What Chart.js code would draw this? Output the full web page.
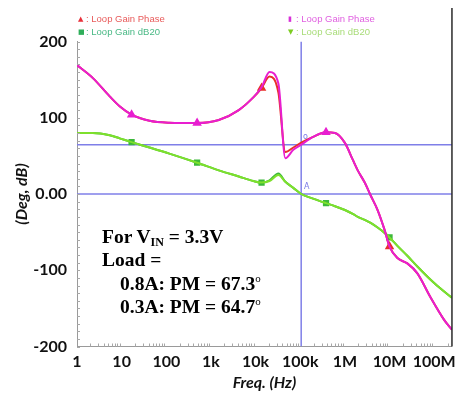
<!DOCTYPE html>
<html>
<head>
<meta charset="utf-8">
<script src="https://cdn.jsdelivr.net/npm/chart.js@4.4.1/dist/chart.umd.min.js"></script>
<style>
  html, body { margin: 0; padding: 0; background: #fff; }
  #wrap { position: relative; width: 462px; height: 397px; overflow: hidden; }
  #c { position: absolute; left: 0; top: 0; }
  .leg { position: absolute; font: 9.5px "Liberation Sans", Arial, sans-serif; line-height: 12px; white-space: nowrap; }
  .mk { position: absolute; font: 7px "DejaVu Sans", sans-serif; line-height: 12px; }
  .note { position: absolute; left: 102px; top: 225px; font: bold 19.5px "Liberation Serif", "Times New Roman", serif; line-height: 23.3px; color: #000; white-space: nowrap; }
  .note sub { font-size: 12px; vertical-align: -3px; line-height: 0; }
  .note sup { font-size: 11px; vertical-align: 8px; line-height: 0; font-weight: normal; }
  .ind { padding-left: 18px; }
  .cur { position: absolute; font: 8px "DejaVu Sans", sans-serif; color: #7a7ae6; line-height: 10px; }
</style>
</head>
<body>
<div id="wrap">
  <canvas id="c" width="462" height="397"></canvas>

  <span class="mk" style="left:78px;top:13px;color:#e8303a;">▲</span>
  <span class="leg" style="left:86px;top:13px;color:#e85a5a;">: Loop Gain Phase</span>
  <span class="mk" style="left:78px;top:26px;color:#2fae5a;">■</span>
  <span class="leg" style="left:86px;top:26px;color:#48b884;">: Loop Gain dB20</span>

  <span class="mk" style="left:288px;top:13px;color:#d830d8;">▮</span>
  <span class="leg" style="left:296px;top:13px;color:#e060e0;">: Loop Gain Phase</span>
  <span class="mk" style="left:288px;top:26px;color:#7ccc20;">▼</span>
  <span class="leg" style="left:296px;top:26px;color:#a8dc78;">: Loop Gain dB20</span>

  <span class="cur" style="left:303px;top:132px;">o</span>
  <span class="cur" style="left:304px;top:182px;">A</span>

  <div class="note">
    <div>For V<sub>IN</sub> = 3.3V</div>
    <div>Load =</div>
    <div class="ind">0.8A: PM = 67.3<sup>o</sup></div>
    <div class="ind">0.3A: PM = 64.7<sup>o</sup></div>
  </div>
</div>

<script>
// Frequency sweep points (Hz)
const freqHz = [1, 2.27, 5.4, 9.0, 16.7, 42, 117, 490, 1500, 4200, 9000, 13600, 20500, 32400,
  46400, 70000, 105000, 194000, 378000, 600000, 1.0e6, 1.5e6, 1.94e6, 2.78e6, 3.78e6, 5.4e6,
  7.74e6, 1.0e7, 1.5e7, 2.5e7, 4.2e7, 8.2e7, 1.67e8, 2.5e8];

// Loop gain phase (deg), 0.3 A load
const phase03 = [169, 152, 128, 115, 104, 96, 93.5, 93, 97, 110, 127, 140, 160, 145,
  47, 58, 64.7, 75, 81, 80, 67, 45, 31, 15, -2, -21,
  -47, -69, -84, -91, -104, -135, -165, -178];

// Loop gain phase (deg), 0.8 A load
const phase08 = [169, 152, 128, 115, 104, 96, 93.5, 93, 97, 110, 127, 139, 154, 133,
  55, 61, 67.3, 75, 81, 80, 67, 45, 31, 15, -2, -21,
  -47, -69, -84, -91, -104, -135, -165, -178];

// Loop gain magnitude (dB), 0.3 A load
const gainDb03 = [80, 80, 77, 73, 68, 61, 53, 41, 31, 23, 17, 15, 17, 25,
  16, 8, 0, -6, -12, -16, -21, -26, -30, -34, -38, -44,
  -51, -57, -68, -81, -95, -112, -128, -136];

// Loop gain magnitude (dB), 0.8 A load
const gainDb08 = [80, 80, 77, 73, 68, 61, 53, 41, 31, 23, 17, 15, 18, 27,
  16, 8, 0, -6, -12, -16, -21, -26, -30, -34, -38, -44,
  -51, -57, -68, -81, -95, -112, -128, -136];

// Cursor lines: unity-gain crossover frequency and phase margin level
const crossoverHz = 105000;
const pmLevel = 64.7;

// Axis ticks
const freqTicks = [1, 10, 100, 1e3, 1e4, 1e5, 1e6, 1e7, 1e8];
const freqTickLabels = ['1', '10', '100', '1k', '10k', '100k', '1M', '10M', '100M'];
const yTicks = [-200, -100, 0, 100, 200];
const yTickLabels = ['-200', '-100', '0.00', '100', '200'];

// Sample indices that carry a marker symbol
const phase03Marks = [4, 7, 18];
const phase08Marks = [11, 27];
const gainMarks = [4, 7, 11, 18, 27];

const xMin = 1, xMax = 2.5e8, yMin = -200, yMax = 200;

const pts = (vals) => freqHz.map((f, i) => ({ x: f, y: vals[i] }));
const radii = (marks, r) => freqHz.map((f, i) => marks.includes(i) ? r : 0);

const cursorColor = '#7f7fe8';

const framePlugin = {
  id: 'frame',
  afterDraw(chart) {
    const { ctx, chartArea: a, scales: { x, y } } = chart;
    ctx.save();
    // minor ticks along both axes
    ctx.strokeStyle = '#a8a8a8';
    ctx.lineWidth = 1;
    ctx.beginPath();
    for (let d = 0; d < 9; d++) {
      for (let k = 2; k < 10; k++) {
        const v = k * Math.pow(10, d);
        if (v > x.max) break;
        const px = Math.round(x.getPixelForValue(v)) + 0.5;
        ctx.moveTo(px, a.bottom);
        ctx.lineTo(px, a.bottom - 3);
      }
    }
    for (let v = y.min; v <= y.max; v += 10) {
      const py = Math.round(y.getPixelForValue(v)) + 0.5;
      ctx.moveTo(a.left, py);
      ctx.lineTo(a.left + 3, py);
    }
    ctx.stroke();
    // right frame edge
    ctx.strokeStyle = '#2a2a2a';
    ctx.lineWidth = 1.5;
    ctx.beginPath();
    ctx.moveTo(a.right, 8);
    ctx.lineTo(a.right, a.bottom);
    ctx.stroke();
    ctx.restore();
  }
};

new Chart(document.getElementById('c'), {
  type: 'line',
  data: {
    datasets: [
      {
        label: 'Loop Gain Phase (0.3A)', data: pts(phase03), order: 1,
        borderColor: '#e81ed0', backgroundColor: '#e81ed0', borderWidth: 2,
        pointRadius: radii(phase03Marks, 3.5), pointStyle: 'triangle',
        cubicInterpolationMode: 'monotone'
      },
      {
        label: 'Loop Gain Phase (0.8A)', data: pts(phase08), order: 2,
        borderColor: '#e8302a', backgroundColor: '#e8302a', borderWidth: 2,
        pointRadius: radii(phase08Marks, 3.5), pointStyle: 'triangle',
        cubicInterpolationMode: 'monotone'
      },
      {
        label: 'Loop Gain dB20 (0.3A)', data: pts(gainDb03), order: 3,
        borderColor: '#7ee02c', backgroundColor: '#7ee02c', borderWidth: 2,
        pointRadius: 0, cubicInterpolationMode: 'monotone'
      },
      {
        label: 'Loop Gain dB20 (0.8A)', data: pts(gainDb08), order: 4,
        borderColor: '#3cb83a', backgroundColor: '#34b040', borderWidth: 2,
        pointRadius: radii(gainMarks, 3), pointStyle: 'rect',
        cubicInterpolationMode: 'monotone'
      },
      {
        label: 'PM level', data: [{ x: xMin, y: pmLevel }, { x: xMax, y: pmLevel }], order: 5,
        borderColor: cursorColor, borderWidth: 1.5, pointRadius: 0
      },
      {
        label: '0 dB', data: [{ x: xMin, y: 0 }, { x: xMax, y: 0 }], order: 5,
        borderColor: cursorColor, borderWidth: 1.5, pointRadius: 0
      },
      {
        label: 'Crossover', data: [{ x: crossoverHz, y: yMin }, { x: crossoverHz, y: yMax }], order: 5,
        borderColor: cursorColor, borderWidth: 1.5, pointRadius: 0
      }
    ]
  },
  options: {
    responsive: false,
    animation: false,
    layout: { padding: { left: 0, right: 7, top: 41.5, bottom: 0 } },
    plugins: { legend: { display: false }, tooltip: { enabled: false } },
    scales: {
      x: {
        type: 'logarithmic', min: xMin, max: xMax,
        afterBuildTicks(s) { s.ticks = freqTicks.map(v => ({ value: v })); },
        afterFit(s) { s.height = 50.5; },
        grid: { display: false, drawTicks: false },
        border: { display: true, color: '#9a9a9a', width: 1 },
        ticks: {
          autoSkip: false, maxRotation: 0, padding: 6, color: '#111',
          font: { family: 'Lato', weight: 'bold', size: 16 },
          callback: (v) => freqTickLabels[freqTicks.indexOf(v)]
        },
        title: {
          display: true, text: 'Freq. (Hz)', color: '#111',
          font: { family: 'Lato', weight: 'bold', style: 'italic', size: 16 },
          padding: { top: 0, bottom: 5 }
        }
      },
      y: {
        min: yMin, max: yMax,
        afterBuildTicks(s) { s.ticks = yTicks.map(v => ({ value: v })); },
        afterFit(s) { s.width = 77; },
        grid: { display: false, drawTicks: false },
        border: { display: true, color: '#9a9a9a', width: 1 },
        ticks: {
          padding: 10, color: '#111',
          font: { family: 'Lato', weight: 'bold', size: 16 },
          callback: (v) => yTickLabels[yTicks.indexOf(v)]
        },
        title: {
          display: true, text: '(Deg, dB)', color: '#111',
          font: { family: 'Lato', weight: 'bold', style: 'italic', size: 16 },
          padding: { top: 12, bottom: 0 }
        }
      }
    }
  },
  plugins: [framePlugin]
});
</script>
</body>
</html>
